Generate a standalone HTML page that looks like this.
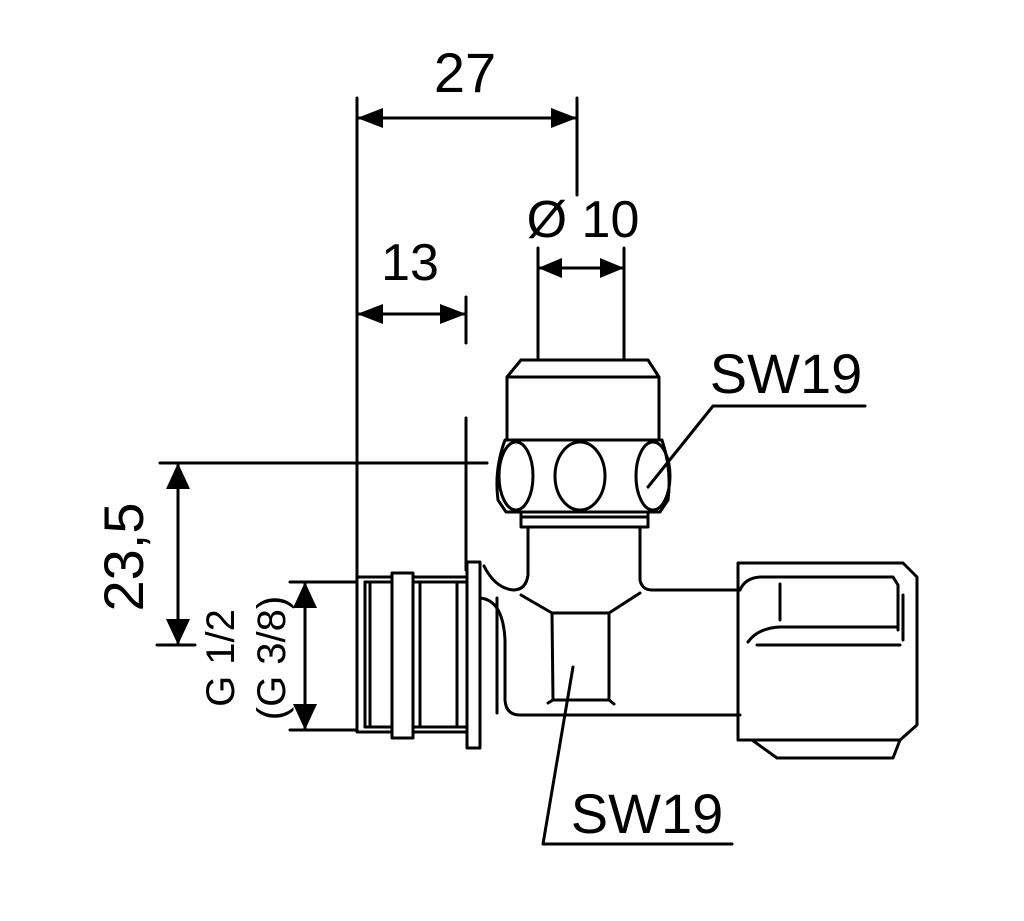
<!DOCTYPE html>
<html><head><meta charset="utf-8"><style>
html,body{margin:0;padding:0;background:#fff;}
svg{display:block;}
text{font-family:"Liberation Sans","DejaVu Sans",sans-serif;fill:#000;}
</style></head><body>
<svg width="1024" height="921" viewBox="0 0 1024 921" xmlns="http://www.w3.org/2000/svg">
<g stroke="#000" stroke-width="3" fill="none" stroke-linecap="round" stroke-linejoin="round">
<line x1="357" y1="98" x2="357" y2="580"/>
<line x1="577" y1="98" x2="577" y2="195"/>
<line x1="357" y1="118" x2="577" y2="118"/>
<line x1="357" y1="314" x2="466" y2="314"/>
<line x1="466" y1="297" x2="466" y2="343"/>
<line x1="466" y1="418" x2="466" y2="570"/>
<line x1="538" y1="248" x2="538" y2="358"/>
<line x1="624" y1="248" x2="624" y2="358"/>
<line x1="538" y1="268" x2="624" y2="268"/>
<line x1="160" y1="463" x2="487" y2="463"/>
<line x1="157" y1="645" x2="195" y2="645"/>
<line x1="178" y1="463" x2="178" y2="645"/>
<line x1="290" y1="582" x2="357" y2="582"/>
<line x1="290" y1="730" x2="357" y2="730"/>
<line x1="305" y1="582" x2="305" y2="730"/>
<polyline points="865,406 713,406 648,487"/>
<polyline points="732,844 543,844 573,667"/>
<path d="M521,360 L648,360 L659,377 L659,440 M507,377 L521,360 M507,377 L659,377 M507,377 L507,440"/>
<path d="M505,440 L662,440 Q672,470 668,500 L660,512 L506,512 L498,500 Q494,470 505,440 Z"/>
<ellipse cx="516" cy="476" rx="17" ry="34"/>
<ellipse cx="580" cy="476" rx="25" ry="34"/>
<ellipse cx="653" cy="476" rx="17" ry="34"/>
<path d="M521,512 L521,527 L648,527 L648,512 M521,517 L648,517"/>
<path d="M528,527 L528,575 Q526,590 513,590 Q495,588 484,566"/>
<path d="M640,527 L640,580 Q642,590 652,590 L740,590"/>
<path d="M521,595 L552,613 L609,613 L640,593"/>
<path d="M552,613 L553,700 L609,700 L609,613 M548,703 L553,700 M609,700 L614,704"/>
<path d="M480,598 Q503,600 505,640 L505,700 Q506,715 520,715 L740,715"/>
<line x1="497" y1="598" x2="497" y2="713"/>
<rect x="467" y="562" width="13" height="186"/>
<path d="M357,577 L467,577 M357,732 L467,732 M357,577 L357,732"/>
<line x1="365" y1="582" x2="365" y2="727"/>
<line x1="370" y1="582" x2="370" y2="727"/>
<line x1="365" y1="582" x2="467" y2="582"/>
<line x1="365" y1="727" x2="467" y2="727"/>
<rect x="392" y="573" width="21" height="165" fill="#fff"/>
<line x1="420" y1="582" x2="420" y2="727"/>
<line x1="457" y1="582" x2="457" y2="727"/>
<path d="M738,563 L903,563 L917,577 L917,725 L900,740 L893,758 L777,758 L752,740 L738,740 Z"/>
<path d="M740,590 Q745,578 760,577 L893,577 L898,585 L898,630"/>
<path d="M748,642 Q758,628 780,627 L898,627"/>
<line x1="757" y1="645" x2="900" y2="645"/>
<line x1="780" y1="584" x2="780" y2="620"/>
<line x1="903" y1="595" x2="903" y2="640"/>
<line x1="738" y1="740" x2="900" y2="740"/>
</g>
<g fill="#000">
<polygon points="357,118 383,108 383,128"/>
<polygon points="577,118 551,108 551,128"/>
<polygon points="357,314 383,304 383,324"/>
<polygon points="466,314 440,304 440,324"/>
<polygon points="538,268 562,258 562,278"/>
<polygon points="624,268 600,258 600,278"/>
<polygon points="178,463 166,489 190,489"/>
<polygon points="178,645 166,619 190,619"/>
<polygon points="305,582 293,608 317,608"/>
<polygon points="305,730 293,704 317,704"/>
</g>
<text x="465" y="92" font-size="56" text-anchor="middle">27</text>
<text x="410" y="280" font-size="52" text-anchor="middle">13</text>
<text x="583" y="237" font-size="52" text-anchor="middle">Ø 10</text>
<text x="786" y="393" font-size="56" text-anchor="middle">SW19</text>
<text x="647" y="833" font-size="56" text-anchor="middle">SW19</text>
<text transform="translate(143,557) rotate(-90)" font-size="56" text-anchor="middle">23,5</text>
<text transform="translate(234,658) rotate(-90)" font-size="40" text-anchor="middle">G 1/2</text>
<text transform="translate(285,658) rotate(-90)" font-size="40" text-anchor="middle">(G 3/8)</text>
</svg>
</body></html>
